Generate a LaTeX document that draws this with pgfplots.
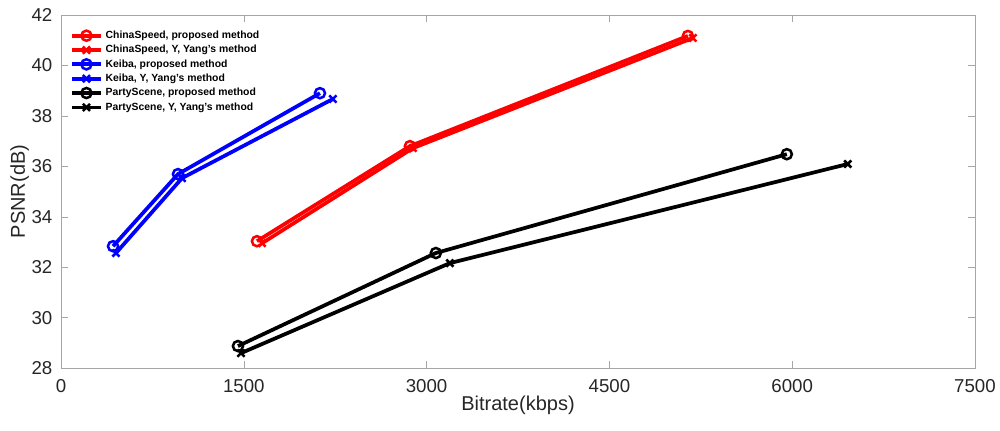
\documentclass[border=0pt]{standalone}
\usepackage{pgfplots}
\pgfplotsset{compat=1.18}
\usepackage{fontspec}
\setmainfont{Liberation Sans}
\begin{document}
\begin{tikzpicture}
\begin{axis}[
  at={(0pt,0pt)}, anchor=south west,
  scale only axis, width=685.5pt, height=264.75pt,
  xmin=0, xmax=7500, ymin=28, ymax=42,
  xtick={0,1500,3000,4500,6000,7500},
  ytick={28,30,...,42},
  axis line style={gray!70},
  tick style={gray!70, major tick length=5pt},
  tick align=inside,
  scaled x ticks=false,
  xticklabel style={/pgf/number format/1000 sep={}, yshift=-5pt},
  yticklabel style={xshift=-3pt},
  ticklabel style={font=\fontsize{14}{16}\selectfont, text=black!85},
  /pgf/number format/assume math mode=true,
  xlabel={Bitrate(kbps)}, ylabel={PSNR(dB)},
  label style={font=\fontsize{15}{17}\selectfont, text=black!85},
  xlabel style={yshift=4.5pt},
  ylabel style={yshift=-5pt},
  legend style={draw=none, fill=none, at={(0.008,0.967)}, anchor=north west,
    font=\bfseries\fontsize{7.8}{9}\selectfont, row sep=-0.4pt, inner sep=1pt},
  legend cell align=left,
  legend image code/.code={\draw[mark repeat=2,mark phase=2] plot coordinates {(0pt,0pt) (11pt,0pt) (22pt,0pt)};},
  every axis plot/.append style={line width=2.8pt, mark size=3.8pt, mark options={line width=1.9pt}},
]
\addplot[red, mark=o] coordinates {(1608,33.03) (2863,36.80) (5144,41.17)};
\addlegendentry{ChinaSpeed, proposed method}
\addplot[red, mark=x] coordinates {(1650,32.95) (2888,36.72) (5185,41.09)};
\addlegendentry{ChinaSpeed, Y, Yang's method}
\addplot[blue, mark=o] coordinates {(427,32.83) (960,35.69) (2125,38.90)};
\addlegendentry{Keiba, proposed method}
\addplot[blue, mark=x] coordinates {(451,32.56) (993,35.53) (2231,38.67)};
\addlegendentry{Keiba, Y, Yang's method}
\addplot[black, mark=o] coordinates {(1452,28.87) (3076,32.56) (5956,36.48)};
\addlegendentry{PartyScene, proposed method}
\addplot[black, mark=x] coordinates {(1477,28.59) (3191,32.16) (6456,36.09)};
\addlegendentry{PartyScene, Y, Yang's method}
\end{axis}
\pgfresetboundingbox
\useasboundingbox (-45.75pt,-46.5pt) rectangle (704.25pt,276pt);
\end{tikzpicture}
\end{document}
